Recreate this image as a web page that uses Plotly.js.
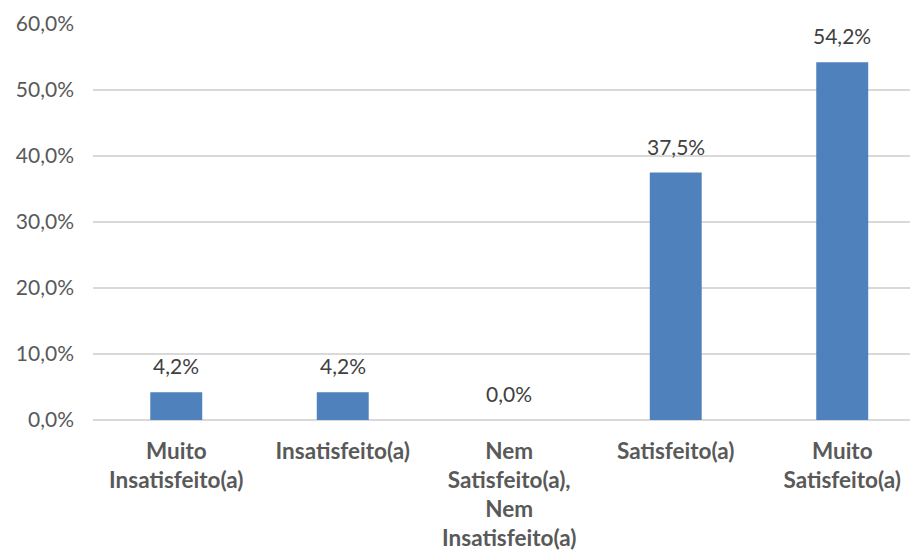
<!DOCTYPE html>
<html>
<head>
<meta charset="utf-8">
<script src="https://cdn.plot.ly/plotly-3.0.1.min.js"></script>
<style>html,body{margin:0;padding:0;background:#fff;}#chart{width:913px;height:550px;}</style>
</head>
<body>
<div id="chart"></div>
<script>
const categories = ["Muito Insatisfeito(a)", "Insatisfeito(a)", "Nem Satisfeito(a), Nem Insatisfeito(a)", "Satisfeito(a)", "Muito Satisfeito(a)"];
const tickLabels = ["Muito<br>Insatisfeito(a)", "Insatisfeito(a)", "Nem<br>Satisfeito(a),<br>Nem<br>Insatisfeito(a)", "Satisfeito(a)", "Muito<br>Satisfeito(a)"];
const values = [4.2, 4.2, 0.0, 37.5, 54.2];

const fmt = v => v.toFixed(1).replace('.', ',') + '%';
const FONT = 'Lato, "Open Sans", sans-serif';

const trace = {
  type: 'bar',
  x: categories,
  y: values,
  width: 0.312,
  marker: {color: '#4f81bd'},
  hoverinfo: 'skip'
};

const annotations = categories.map((c, i) => ({
  x: c, y: values[i], xref: 'x', yref: 'y',
  text: fmt(values[i]), showarrow: false,
  yanchor: 'bottom', yshift: 12,
  font: {family: FONT, size: 21, color: '#404040'}
}));

const layout = {
  width: 913, height: 550,
  margin: {l: 93, r: 3, t: 23.5, b: 130},
  paper_bgcolor: '#ffffff', plot_bgcolor: '#ffffff',
  separators: ',.',
  showlegend: false,
  xaxis: {
    type: 'category',
    range: [-0.5, 4.407],
    tickmode: 'array', tickvals: categories, ticktext: tickLabels,
    ticks: '', showgrid: false, showline: false, zeroline: false,
    tickangle: 0,
    ticklabelstandoff: 15,
    tickfont: {family: FONT, size: 22.5, color: '#595959', weight: 'bold'}
  },
  yaxis: {
    range: [0, 60], dtick: 10, tick0: 0,
    tickformat: '.1f', ticksuffix: '%',
    ticks: '', showline: false,
    gridcolor: '#d9d9d9', gridwidth: 1.5,
    zeroline: true, zerolinecolor: '#d9d9d9', zerolinewidth: 1.5,
    ticklabelstandoff: 18,
    tickfont: {family: FONT, size: 21, color: '#595959'}
  },
  annotations: annotations
};

Plotly.newPlot('chart', [trace], layout, {displayModeBar: false, staticPlot: true});
</script>
</body>
</html>
